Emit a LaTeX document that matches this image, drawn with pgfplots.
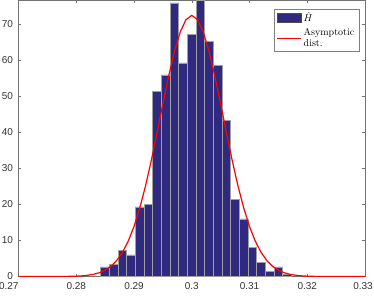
\documentclass[border=0pt]{standalone}
\usepackage{fontspec}
\usepackage{pgfplots}
\pgfplotsset{compat=1.18}
\newfontfamily\helv{Liberation Sans}
\definecolor{barblue}{RGB}{47,41,128}
\definecolor{edgegray}{RGB}{160,160,160}
\definecolor{myred}{RGB}{255,0,0}
\begin{document}
\begin{tikzpicture}
\begin{axis}[
  scale only axis,
  width=346.5pt, height=276pt,
  xmin=0.27, xmax=0.33,
  ymin=0, ymax=76.667,
  xtick={0.27,0.28,0.29,0.30,0.31,0.32,0.33},
  xticklabels={\makebox[0pt][r]{0.27},0.28,0.29,0.3,0.31,0.32,\makebox[0pt][c]{\kern-4pt 0.33}},
  ytick={0,10,20,30,40,50,60,70},
  yticklabels={0,10,20,30,40,50,60,70},
  tick label style={font=\helv\fontsize{10}{11}\selectfont, text=black!80},
  xticklabel style={yshift=-2.5pt},
  yticklabel style={xshift=-2pt},
  tick align=inside,
  major tick length=3pt,
  axis line style={draw=black!55},
  every tick/.style={draw=black!55},
  legend style={at={(axis cs:0.33,76.667)}, anchor=north east, xshift=-6pt, yshift=-8.5pt,
    draw=black!50, fill=white, font=\fontsize{10}{11}\selectfont,
    nodes={align=left, inner sep=1.5pt}, row sep=2.5pt, inner xsep=3pt, inner ysep=1.5pt},
  legend cell align=left,
  clip=true,
]
\addplot[ybar, bar width=0.0015, fill=barblue, draw=edgegray, line width=0.6pt,
  legend image code/.code={\draw[fill=barblue, draw=black!70, line width=0.4pt] (0pt,-4.5pt) rectangle (24pt,4.5pt);}]
  coordinates {
  (0.2850,2.667) (0.2865,3.333) (0.2880,7.333) (0.2895,6.000)
  (0.2910,19.333) (0.2925,20.000) (0.2940,51.333) (0.2955,56.000)
  (0.2970,76.000) (0.2985,59.333) (0.3000,67.333) (0.3015,76.667)
  (0.3030,65.333) (0.3045,58.667) (0.3060,43.333) (0.3075,21.333)
  (0.3090,16.000) (0.3105,8.000) (0.3120,4.000) (0.3135,1.333)
  (0.3150,2.667) (0.3165,0.667)
  };
\addlegendentry{$\hat{H}$}
\addplot[draw=myred, line width=1.2pt, mark=none,
  legend image code/.code={\draw[draw=myred, line width=1.4pt] (0pt,0pt) -- (24pt,0pt);}]
  coordinates {
  (0.270,0) (0.274,0) (0.276,0.002) (0.278,0.024) (0.279,0.050)
  (0.280,0.097) (0.281,0.186) (0.282,0.342) (0.283,0.611) (0.284,1.054)
  (0.285,1.76) (0.286,2.84) (0.287,4.44) (0.288,6.71) (0.289,9.82)
  (0.290,13.89) (0.291,19.02) (0.292,25.19) (0.293,32.27) (0.294,40.01)
  (0.295,47.99) (0.296,55.68) (0.297,62.51) (0.298,67.90) (0.299,71.35)
  (0.300,72.54)
  (0.301,71.35) (0.302,67.90) (0.303,62.51) (0.304,55.68) (0.305,47.99)
  (0.306,40.01) (0.307,32.27) (0.308,25.19) (0.309,19.02) (0.310,13.89)
  (0.311,9.82) (0.312,6.71) (0.313,4.44) (0.314,2.84) (0.315,1.76)
  (0.316,1.054) (0.317,0.611) (0.318,0.342) (0.319,0.186) (0.320,0.097)
  (0.321,0.050) (0.322,0.024) (0.324,0.002) (0.326,0) (0.330,0)
  };
\addlegendentry{Asymptotic\\dist.}
\end{axis}
\pgfresetboundingbox
\useasboundingbox (-18.5pt,-19pt) rectangle (355.5pt,276.5pt);
\end{tikzpicture}
\end{document}
